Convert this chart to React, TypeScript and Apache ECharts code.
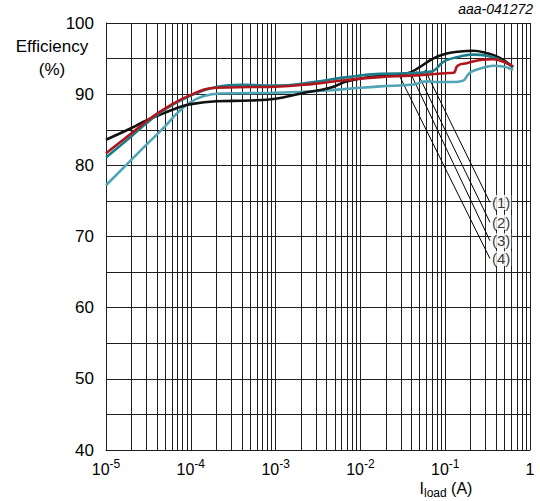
import React, { useEffect, useRef } from "react";
import * as echarts from "echarts";

// Curve (1) – black
const xBlack = [1e-5, 2e-5, 3e-5, 5e-5, 7e-5, 1e-4, 2e-4, 5e-4, 1e-3, 2e-3, 4.4e-3, 7e-3, 0.017, 0.035, 0.05, 0.072, 0.104, 0.15, 0.214, 0.3, 0.44, 0.63];
const yBlack = [83.6, 85.25, 86.3, 87.4, 88.1, 88.6, 89.0, 89.1, 89.35, 90.1, 90.9, 91.8, 92.6, 92.9, 93.8, 95.0, 95.7, 96.0, 96.1, 95.8, 95.1, 93.8];

// Curve (2) – red
const xRed = [1e-5, 2e-5, 3e-5, 5e-5, 1e-4, 2e-4, 5e-4, 1e-3, 2.8e-3, 7e-3, 0.017, 0.04, 0.07, 0.1, 0.125, 0.14, 0.18, 0.26, 0.37, 0.48, 0.63];
const yRed = [81.7, 84.5, 86.2, 88.0, 89.9, 90.9, 91.0, 91.05, 91.45, 92.0, 92.4, 92.6, 92.8, 92.95, 93.0, 94.0, 94.35, 94.8, 94.9, 94.6, 93.9];

// Curve (3) – dark teal
const xTeal = [1e-5, 2e-5, 3e-5, 5e-5, 1e-4, 2e-4, 4e-4, 1e-3, 2.8e-3, 7e-3, 0.017, 0.042, 0.06, 0.074, 0.09, 0.104, 0.15, 0.214, 0.31, 0.44, 0.63];
const yTeal = [81.1, 84.1, 85.9, 87.9, 89.8, 91.0, 91.3, 91.2, 91.7, 92.4, 92.85, 92.95, 93.1, 93.35, 94.3, 94.8, 95.3, 95.55, 95.4, 94.8, 93.85];

// Curve (4) – light teal
const xLight = [1e-5, 2e-5, 3e-5, 5e-5, 7e-5, 1e-4, 1.4e-4, 2.2e-4, 5e-4, 1e-3, 2.8e-3, 7e-3, 0.017, 0.042, 0.06, 0.087, 0.125, 0.163, 0.18, 0.2, 0.26, 0.37, 0.48, 0.63];
const yLight = [77.2, 80.8, 82.9, 85.5, 87.4, 88.9, 89.7, 90.1, 90.15, 90.2, 90.4, 90.75, 91.1, 91.35, 91.8, 91.7, 91.7, 91.9, 92.5, 93.1, 93.6, 94.0, 93.9, 93.4];

// Curve labels and leader lines (data coordinates)
const curveLabels = ["(1)", "(2)", "(3)", "(4)"];
const leaderStartX = [0.0578, 0.0461, 0.0392, 0.028];
const leaderStartY = [93.4, 93.2, 92.9, 92.9];
const labelX = [0.337, 0.337, 0.337, 0.337];
const labelY = [74.8, 72.0, 69.4, 66.9];

// Axis
const decades = [1e-5, 1e-4, 1e-3, 1e-2, 1e-1];
const minorMultipliers = [2, 3, 4, 5, 6, 7, 8, 9];
const yMin = 40;
const yMax = 100;

const zip = (xs: number[], ys: number[]) => xs.map((x, i) => [x, ys[i]]);

export default function App() {
  const ref = useRef<HTMLDivElement>(null);
  useEffect(() => {
    document.body.style.margin = "0";
    if (!ref.current) return;
    const chart = echarts.init(ref.current, null, { renderer: "svg" });
    const font = "Liberation Sans, Arial, sans-serif";
    const gridColor = "#1e1e1e";
    const minorX: number[] = [];
    decades.forEach((d) => minorMultipliers.forEach((m) => minorX.push(d * m)));

    const curve = (name: string, data: number[][], color: string, z: number) => ({
      name,
      type: "line",
      data,
      smooth: 0.45,
      showSymbol: false,
      symbol: "none",
      z,
      lineStyle: { color, width: 2.6 },
    });

    chart.setOption({
      animation: false,
      backgroundColor: "#ffffff",
      grid: { left: 106, right: 10, top: 23, bottom: 51, containLabel: false },
      xAxis: {
        type: "log",
        logBase: 10,
        min: 1e-5,
        max: 1,
        axisLine: { show: true, lineStyle: { color: gridColor, width: 1 } },
        axisTick: { show: false },
        splitLine: { show: true, lineStyle: { color: gridColor, width: 1 } },
        axisLabel: {
          margin: 8,
          color: "#000",
          fontFamily: font,
          formatter: (v: number) => {
            const e = Math.round(Math.log10(v));
            if (e === 0) return "{b|1}";
            return "{b|10}{s|" + e + "}";
          },
          rich: {
            b: { fontSize: 16, lineHeight: 22, fontFamily: font, color: "#000" },
            s: { fontSize: 12, lineHeight: 12, verticalAlign: "top", fontFamily: font, color: "#000" },
          },
        },
      },
      yAxis: {
        type: "value",
        min: yMin,
        max: yMax,
        interval: 10,
        axisLine: { show: true, lineStyle: { color: gridColor, width: 1 } },
        axisTick: { show: false },
        splitLine: { show: true, lineStyle: { color: gridColor, width: 1 } },
        minorTick: { show: false, splitNumber: 2 },
        minorSplitLine: { show: true, lineStyle: { color: gridColor, width: 1 } },
        axisLabel: { margin: 12, fontSize: 17, color: "#000", fontFamily: font },
      },
      series: [
        {
          name: "minor grid",
          type: "lines",
          coordinateSystem: "cartesian2d",
          silent: true,
          z: 1,
          lineStyle: { color: gridColor, width: 1, opacity: 1 },
          data: minorX.map((x) => ({ coords: [[x, yMin], [x, yMax]] })),
        },
        {
          name: "leaders",
          type: "lines",
          coordinateSystem: "cartesian2d",
          silent: true,
          z: 2,
          lineStyle: { color: "#000", width: 1, opacity: 1 },
          data: curveLabels.map((_, i) => ({
            coords: [
              [leaderStartX[i], leaderStartY[i]],
              [labelX[i], labelY[i]],
            ],
          })),
        },
        curve("(4)", zip(xLight, yLight), "#4fa5b6", 3),
        curve("(1)", zip(xBlack, yBlack), "#111111", 4),
        curve("(3)", zip(xTeal, yTeal), "#1a7d8b", 5),
        curve("(2)", zip(xRed, yRed), "#b0161c", 6),
        {
          name: "labels",
          type: "scatter",
          symbolSize: 0,
          silent: true,
          z: 7,
          data: curveLabels.map((t, i) => [labelX[i], labelY[i], t]),
          label: {
            show: true,
            position: "right",
            distance: 1,
            formatter: (p: any) => p.value[2],
            fontSize: 15,
            fontFamily: font,
            color: "#000",
            backgroundColor: "#ffffff",
            padding: [0, 1],
          },
        },
      ],
      graphic: [
        {
          type: "text",
          x: 52,
          y: 46,
          style: { text: "Efficiency", fontSize: 17, fontFamily: font, fill: "#000", align: "center", verticalAlign: "middle" },
        },
        {
          type: "text",
          x: 52,
          y: 69,
          style: { text: "(%)", fontSize: 17, fontFamily: font, fill: "#000", align: "center", verticalAlign: "middle" },
        },
        {
          type: "text",
          right: 7,
          top: 2,
          style: { text: "aaa-041272", fontSize: 14, fontStyle: "italic", fontFamily: font, fill: "#000" },
        },
        {
          type: "text",
          x: 446,
          y: 488,
          style: {
            text: "{i|I}{sub|load}{i| (A)}",
            align: "center",
            verticalAlign: "middle",
            rich: {
              i: { fontSize: 16, lineHeight: 22, fontFamily: font, fill: "#000" },
              sub: { fontSize: 12, lineHeight: 12, verticalAlign: "bottom", fontFamily: font, fill: "#000" },
            },
          },
        },
      ],
    });
    return () => chart.dispose();
  }, []);
  return <div ref={ref} style={{ width: 540, height: 501 }} />;
}
